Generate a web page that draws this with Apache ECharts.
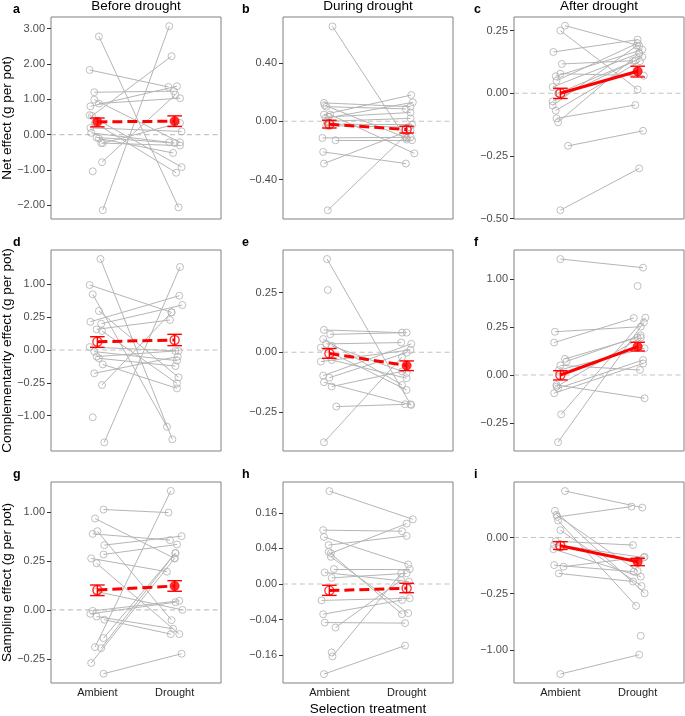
<!DOCTYPE html>
<html>
<head>
<meta charset="utf-8">
<script src="https://cdn.jsdelivr.net/npm/echarts@6/dist/echarts.min.js"></script>
<style>
html,body{margin:0;padding:0;background:#fff;}
#chart{width:685px;height:716px;}
</style>
</head>
<body>
<div id="chart"></div>
<script>
// ---------- DATA ----------
const categories = ['Ambient', 'Drought'];
const colTitles = ['Before drought', 'During drought', 'After drought'];
const rowTitles = ['Net effect (g per pot)', 'Complementarity effect (g per pot)', 'Sampling effect (g per pot)'];
const xTitle = 'Selection treatment';

// each pair: [ambient jittered x, ambient value, drought jittered x, drought value] (g per pot)
const pairsA = [
  [1.02, 2.78, 2.05, -2.06], [1.07, -2.14, 1.93, 3.07], [0.90, 1.83, 1.92, 1.35],
  [0.96, 1.20, 1.99, 1.23], [0.93, 0.53, 1.96, 2.22], [1.02, 0.88, 2.07, 1.03],
  [0.91, 0.80, 2.03, 1.37], [0.90, 0.55, 2.09, -0.92], [0.91, 0.19, 2.09, 0.09],
  [0.92, 0.05, 1.93, -0.22], [0.99, -0.08, 2.00, -0.24], [1.02, -0.11, 1.98, -0.52],
  [1.05, -0.24, 2.07, -0.31], [1.07, -0.24, 2.07, 0.33], [1.06, -0.78, 2.01, 1.13],
  [0.96, 0.99, 2.07, -0.22], [0.97, 0.33, 2.02, -1.08], [0.94, -1.04, null, null]
];
const pairsB = [
  [1.04, 0.65, 2.00, -0.125], [0.98, -0.61, 1.98, -0.10], [0.93, -0.29, 2.05, -0.06],
  [0.92, -0.21, 1.99, -0.29], [0.91, -0.114, 2.05, -0.11], [1.08, -0.13, 2.07, -0.13],
  [0.93, 0.126, 2.05, 0.10], [0.94, 0.11, 2.00, -0.115], [0.96, 0.10, 1.99, 0.085],
  [0.93, 0.046, 2.06, 0.18], [1.01, 0.046, 2.10, -0.22], [0.95, 0.02, 2.08, 0.13],
  [0.97, 0.00, 2.05, 0.02], [1.00, -0.02, 2.07, -0.023], [0.99, 0.03, 2.05, 0.06],
  [0.96, -0.03, 2.03, -0.04]
];
const pairsC = [
  [1.06, 0.27, 2.02, 0.19], [1.00, 0.25, 2.00, 0.015], [0.91, 0.165, 2.00, 0.214],
  [1.02, 0.117, 1.94, 0.13], [1.00, 0.078, 2.08, 0.07], [0.94, 0.068, 2.06, 0.174],
  [0.90, 0.025, 2.02, 0.16], [0.90, -0.032, 2.06, 0.145], [0.90, -0.049, 1.99, 0.19],
  [0.94, -0.069, 2.03, 0.128], [0.95, -0.10, 1.97, -0.047], [0.97, -0.116, 2.02, 0.16],
  [1.10, -0.21, 2.07, -0.15], [1.00, -0.467, 2.02, -0.30], [0.97, 0.00, 1.97, 0.13],
  [0.95, 0.05, 2.00, 0.20]
];
const pairsD = [
  [1.04, 1.921, 1.97, -1.850], [0.94, 0.719, 1.90, -1.364], [1.09, -1.977, 2.07, 1.598],
  [0.90, 0.980, 1.96, 0.329], [1.02, 0.353, 2.05, -0.173], [0.91, 0.185, 2.06, 0.684],
  [1.05, 0.160, 2.10, 0.469], [0.99, 0.099, 1.94, 0.209], [1.06, 0.084, 2.03, -0.258],
  [0.90, 0.002, 2.05, -0.0002], [0.96, -0.0006, 2.03, -0.026], [0.99, -0.010, 2.01, -0.0002],
  [1.02, -0.016, 2.01, -0.060], [1.07, -0.048, 2.03, -0.341], [0.96, -0.126, 2.04, -0.010],
  [1.06, -0.284, 1.96, 0.330], [0.94, -1.051, null, null]
];
const pairsE = [
  [0.97, 0.608, 2.05, -0.189], [0.93, -0.566, 1.94, -0.0016], [0.93, 0.035, 1.94, 0.027],
  [1.01, 0.0225, 2.00, 0.027], [0.92, 0.0123, 1.94, -0.0745], [0.96, 0.0049, 1.93, 0.0066],
  [0.89, 0.0015, 2.00, -0.099], [0.89, -0.0061, 2.05, 0.0004], [1.03, -0.0041, 2.00, -0.047],
  [0.92, -0.038, 2.06, 0.0049], [1.00, -0.045, 2.00, -0.00001], [0.93, -0.0625, 2.06, -0.194],
  [1.03, -0.082, 1.94, -0.0256], [1.09, -0.206, 1.98, -0.189], [0.98, 0.271, null, null],
  [1.03, 0.003, 2.00, -0.030]
];
const pairsF = [
  [1.00, 1.459, 2.07, 1.25], [0.93, 0.203, 2.04, 0.253], [0.92, 0.114, 1.95, 0.353],
  [1.06, 0.028, 2.00, 0.152], [0.98, 0.0025, 2.09, 0.077], [0.95, -0.0108, 2.09, -0.059],
  [0.97, -0.0193, 2.07, 0.0243], [0.92, -0.036, 2.07, 0.0144], [1.01, -0.168, 2.10, 0.356],
  [0.97, -0.49, 2.08, 0.30], [1.00, 0.01, 2.03, 0.0027], [0.95, -0.015, 2.04, 0.152],
  [null, null, 2.00, 0.859], [1.08, 0.02, 2.04, 0.17]
];
const pairsG = [
  [1.08, 1.049, 1.92, 0.986], [0.97, 0.869, 2.00, 0.276], [1.00, 0.645, 1.96, -0.011],
  [0.94, 0.602, 1.94, 0.507], [1.09, 0.437, 2.09, 0.567], [1.08, 0.32, 2.03, 0.446],
  [0.92, 0.276, 1.90, 0.152], [0.99, 0.226, 2.06, -0.061], [0.94, -0.0001, 2.06, 0.0085],
  [0.91, -0.0016, 2.01, 0.0061], [0.99, -0.0046, 1.98, -0.037], [1.09, -0.01, 1.95, -0.061],
  [1.08, -0.083, 2.01, 0.336], [0.97, -0.144, 1.95, 1.474], [1.05, -0.152, 2.01, 0.336],
  [0.92, -0.294, 2.00, 0.276], [1.08, -0.424, 2.09, -0.20], [0.99, 0.035, 2.10, 0.0]
];
const pairsH = [
  [1.00, 0.2735, 2.08, 0.1325], [0.92, 0.0918, 1.94, 0.0882], [0.93, 0.0702, 2.02, 0.0121],
  [0.99, 0.048, 2.00, 0.0734], [0.99, 0.0328, 1.94, -0.0289], [1.02, 0.0234, 2.02, -0.0269],
  [1.06, 0.0071, 2.04, 0.0071], [0.94, 0.0042, 2.03, 0.00017], [1.03, 0.0012, 2.00, 0.0036],
  [0.90, -0.0085, 2.04, -0.0064], [0.92, -0.0289, 1.94, -0.0081], [0.94, -0.0471, 1.98, -0.0484],
  [1.08, -0.06, 1.93, 0.0005], [1.04, -0.166, 1.93, 0.0036], [1.03, -0.148, null, null],
  [0.93, -0.257, 1.98, -0.12], [1.02, 0.03, 2.00, 0.1156]
];
const pairsI = [
  [1.06, 0.171, 2.06, 0.0708], [0.93, 0.0562, 2.09, -0.247], [0.96, 0.0335, 1.92, 0.0756],
  [0.97, 0.0228, 1.98, -0.371], [1.00, 0.0042, 2.05, -0.187], [0.94, -0.0011, 1.94, -0.0046],
  [0.91, -0.0108, 2.04, -0.122], [0.92, -0.0605, 1.95, -0.093], [1.04, -0.0676, 2.09, -0.0296],
  [0.98, -0.1024, 1.94, -0.154], [1.00, -1.479, 2.02, -1.09], [0.95, 0.04, 2.00, -0.0894],
  [0.92, -0.004, 2.08, -0.032], [null, null, 2.04, -0.767]
];

// treatment means: [mean, lower, upper] for Ambient, Drought
const meanA = [[0.36, 0.22, 0.47], [0.38, 0.23, 0.53]];
const meanB = [[-0.02, -0.046, 0.007], [-0.057, -0.08, -0.034]];
const meanC = [[0.0, -0.021, 0.02], [0.088, 0.065, 0.108]];
const meanD = [[0.016, 0.0016, 0.041], [0.023, 0.0044, 0.057]];
const meanE = [[-0.0001, -0.0025, 0.001], [-0.0123, -0.0234, -0.0052]];
const meanF = [[0.0, -0.0027, 0.002], [0.087, 0.0625, 0.116]];
const meanG = [[0.041, 0.0213, 0.0645], [0.0595, 0.0361, 0.0888]];
const meanH = [[-0.00137, -0.0041, -0.00005], [-0.00058, -0.0024, 0.000016]];
const meanI = [[-0.0055, -0.0114, -0.0014], [-0.0467, -0.063, -0.0346]];

// y tick labels
const ticksA = [-2, -1, 0, 1, 2, 3];
const ticksB = [-0.4, 0, 0.4];
const ticksC = [-0.5, -0.25, 0, 0.25];
const ticksD = [-1, -0.25, 0, 0.25, 1];
const ticksE = [-0.25, 0, 0.25];
const ticksF = [-0.25, 0, 0.25, 1];
const ticksG = [-0.25, 0, 0.25, 1];
const ticksH = [-0.16, -0.04, 0, 0.04, 0.16];
const ticksI = [-1, -0.25, 0];

// ---------- LAYOUT / STYLE ----------
const FONT = '"Liberation Sans", Arial, Helvetica, sans-serif';
const RED = '#ff0000';
const GREY = '#b5b5b5';
const colLeft = [51, 283, 514];
const rowTop = [17, 250, 482];
const rowH = [202, 201, 201];
const PW = 170;

const specs = [
  {letter: 'a', pairs: pairsA, means: meanA, ticks: ticksA, scale: 'lin', range: [-2.39, 3.33], fill: [true, true], solid: false},
  {letter: 'b', pairs: pairsB, means: meanB, ticks: ticksB, scale: 'lin', range: [-0.67, 0.715], fill: [false, false], solid: false},
  {letter: 'c', pairs: pairsC, means: meanC, ticks: ticksC, scale: 'lin', range: [-0.502, 0.3045], fill: [false, true], solid: true},
  {letter: 'd', pairs: pairsD, means: meanD, ticks: ticksD, scale: 'sqrt', range: [-1.538, 1.523], fill: [false, false], solid: false},
  {letter: 'e', pairs: pairsE, means: meanE, ticks: ticksE, scale: 'sqrt', range: [-0.825, 0.855], fill: [false, true], solid: false},
  {letter: 'f', pairs: pairsF, means: meanF, ticks: ticksF, scale: 'sqrt', range: [-0.792, 1.302], fill: [false, true], solid: true},
  {letter: 'g', pairs: pairsG, means: meanG, ticks: ticksG, scale: 'sqrt', range: [-0.746, 1.305], fill: [false, true], solid: false},
  {letter: 'h', pairs: pairsH, means: meanH, ticks: ticksH, scale: 'sqrt', range: [-0.557, 0.574], fill: [false, false], solid: false},
  {letter: 'i', pairs: pairsI, means: meanI, ticks: ticksI, scale: 'sqrt', range: [-1.296, 0.494], fill: [false, true], solid: true}
];

const XMIN = 0.4, XMAX = 2.6;
const fmt = v => { const s = Math.abs(v).toFixed(2); return (v < -1e-9 ? '\u2212' : '') + s; };

const grids = [], xAxes = [], yAxes = [], series = [], graphics = [];

specs.forEach((sp, i) => {
  const row = Math.floor(i / 3), col = i % 3;
  const fwd = sp.scale === 'sqrt' ? (v => Math.sign(v) * Math.sqrt(Math.abs(v))) : (v => v);
  const inv = sp.scale === 'sqrt' ? (t => Math.sign(t) * t * t) : (t => t);
  grids.push({left: colLeft[col], top: rowTop[row], width: PW, height: rowH[row],
    show: true, borderColor: '#808080', borderWidth: 1, backgroundColor: '#fff'});
  xAxes.push({type: 'value', gridIndex: i, min: XMIN, max: XMAX,
    axisLine: {show: false}, axisTick: {show: false}, splitLine: {show: false},
    axisLabel: {show: row === 2, customValues: [1, 2], margin: 4,
      formatter: v => categories[Math.round(v) - 1], color: '#222', fontSize: 11, fontFamily: FONT}});
  const tv = sp.ticks.map(fwd);
  yAxes.push({type: 'value', gridIndex: i, min: sp.range[0], max: sp.range[1],
    axisLine: {show: false}, splitLine: {show: false},
    axisTick: {show: true, length: 4, customValues: tv, lineStyle: {color: '#333', width: 1}},
    axisLabel: {customValues: tv, margin: 6, color: '#4d4d4d', fontSize: 11, fontFamily: FONT,
      formatter: v => fmt(inv(v))}});

  // zero reference line
  series.push({type: 'line', xAxisIndex: i, yAxisIndex: i, data: [[XMIN, 0], [XMAX, 0]],
    symbol: 'none', silent: true, z: 1,
    lineStyle: {color: '#c4c4c4', width: 1.1, type: [5, 3.5]}});
  // paired grey lines
  series.push({type: 'lines', coordinateSystem: 'cartesian2d', xAxisIndex: i, yAxisIndex: i, z: 2, silent: true,
    lineStyle: {color: GREY, width: 1, opacity: 1},
    data: sp.pairs.filter(p => p[0] != null && p[2] != null)
      .map(p => ({coords: [[p[0], fwd(p[1])], [p[2], fwd(p[3])]]}))});
  // grey points
  const pts = [];
  sp.pairs.forEach(p => {
    if (p[0] != null) pts.push([p[0], fwd(p[1])]);
    if (p[2] != null) pts.push([p[2], fwd(p[3])]);
  });
  series.push({type: 'scatter', xAxisIndex: i, yAxisIndex: i, z: 3, silent: true, data: pts,
    symbol: 'circle', symbolSize: 7,
    itemStyle: {color: 'rgba(255,255,255,0)', borderColor: '#b0b0b0', borderWidth: 1}});
  // error bars
  series.push({type: 'custom', xAxisIndex: i, yAxisIndex: i, z: 4, silent: true,
    encode: {x: 0, y: [1, 2]},
    data: sp.means.map((m, k) => [k + 1, fwd(m[1]), fwd(m[2])]),
    renderItem: (params, api) => {
      const x = api.value(0);
      const a = api.coord([x, api.value(1)]);
      const b = api.coord([x, api.value(2)]);
      const hw = 7.3;
      const st = {stroke: RED, lineWidth: 1.4};
      return {type: 'group', children: [
        {type: 'line', shape: {x1: a[0], y1: a[1], x2: b[0], y2: b[1]}, style: st},
        {type: 'line', shape: {x1: a[0] - hw, y1: a[1], x2: a[0] + hw, y2: a[1]}, style: st},
        {type: 'line', shape: {x1: b[0] - hw, y1: b[1], x2: b[0] + hw, y2: b[1]}, style: st}
      ]};
    }});
  // mean connecting line
  series.push({type: 'line', xAxisIndex: i, yAxisIndex: i, z: 5, silent: true, symbol: 'none',
    data: sp.means.map((m, k) => [k + 1, fwd(m[0])]),
    lineStyle: {color: RED, width: 3, type: sp.solid ? 'solid' : [10, 5]}});
  // mean markers
  series.push({type: 'scatter', xAxisIndex: i, yAxisIndex: i, z: 6, silent: true, symbol: 'circle',
    symbolSize: 9,
    data: sp.means.map((m, k) => ({value: [k + 1, fwd(m[0])],
      itemStyle: sp.fill[k] ? {color: RED, borderColor: RED, borderWidth: 1}
                            : {color: 'rgba(255,255,255,0)', borderColor: RED, borderWidth: 1.4}}))});

  // panel letter
  graphics.push({type: 'text', x: [13, 242, 474][col], y: rowTop[row] - 7, silent: true,
    style: {text: sp.letter, font: 'bold 12.5px ' + FONT, fill: '#000', textVerticalAlign: 'middle'}});
});

colTitles.forEach((t, c) => graphics.push({type: 'text', x: colLeft[c] + PW / 2, y: 6.5, silent: true,
  style: {text: t, font: '13.5px ' + FONT, fill: '#000', textAlign: 'center', textVerticalAlign: 'middle'}}));
rowTitles.forEach((t, r) => graphics.push({type: 'text', x: 7, y: rowTop[r] + rowH[r] / 2, rotation: Math.PI / 2,
  silent: true, style: {text: t, font: '13.5px ' + FONT, fill: '#000', textAlign: 'center', textVerticalAlign: 'middle'}}));
graphics.push({type: 'text', x: colLeft[1] + PW / 2, y: 709, silent: true,
  style: {text: xTitle, font: '13.5px ' + FONT, fill: '#000', textAlign: 'center', textVerticalAlign: 'middle'}});

const chart = echarts.init(document.getElementById('chart'), null, {renderer: 'canvas'});
chart.setOption({
  animation: false,
  backgroundColor: '#fff',
  grid: grids, xAxis: xAxes, yAxis: yAxes, series: series, graphic: graphics
});
</script>
</body>
</html>
